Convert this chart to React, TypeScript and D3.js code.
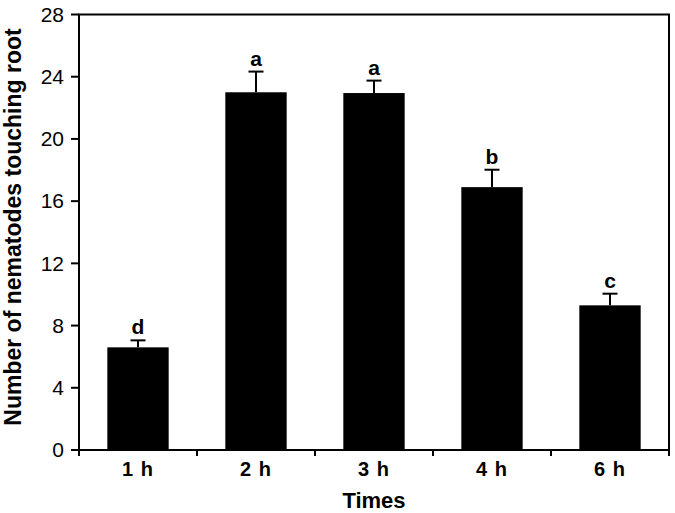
import React from 'react';
import * as d3 from 'd3';

const categories = ['1 h', '2 h', '3 h', '4 h', '6 h'];
const means = [6.6, 23.0, 22.95, 16.9, 9.3];
const errors = [0.45, 1.33, 0.8, 1.12, 0.75];
const letters = ['d', 'a', 'a', 'b', 'c'];
const yTicks = [0, 4, 8, 12, 16, 20, 24, 28];

const App = () => {
    const width = 675;
    const height = 513;
    const margin = { top: 14.5, right: 6, bottom: 63, left: 79 };
    const font = 'Liberation Sans, Arial, Helvetica, sans-serif';

    const x = d3.scaleBand()
        .domain(categories)
        .range([margin.left, width - margin.right])
        .paddingInner(0.48)
        .paddingOuter(0.24);

    const y = d3.scaleLinear()
        .domain([0, 28])
        .range([height - margin.bottom, margin.top]);

    const x0 = margin.left;
    const x1 = width - margin.right;
    const y0 = y(0);
    const boundaries = d3.range(categories.length + 1).map(i => x0 + i * (x1 - x0) / categories.length);

    return (
        <svg
            width={width}
            height={height}
            style={{ position: 'absolute', left: 0, top: 0, background: '#fff' }}
            fontFamily={font}
        >
            {/* bars */}
            {categories.map((c, i) => (
                <rect
                    key={c}
                    x={x(c)}
                    y={y(means[i])}
                    width={x.bandwidth()}
                    height={y0 - y(means[i])}
                    fill="#000"
                />
            ))}

            {/* error bars, upper half only */}
            {categories.map((c, i) => {
                const cx = x(c) + x.bandwidth() / 2;
                const top = y(means[i] + errors[i]);
                return (
                    <g key={c} stroke="#000" strokeWidth={2}>
                        <line x1={cx} x2={cx} y1={y(means[i])} y2={top} />
                        <line x1={cx - 7.5} x2={cx + 7.5} y1={top} y2={top} />
                    </g>
                );
            })}

            {/* significance letters */}
            {categories.map((c, i) => (
                <text
                    key={c}
                    x={x(c) + x.bandwidth() / 2}
                    y={y(means[i] + errors[i]) - 6}
                    textAnchor="middle"
                    fontSize={21}
                    fontWeight="bold"
                >
                    {letters[i]}
                </text>
            ))}

            {/* frame */}
            <rect
                x={x0}
                y={margin.top}
                width={x1 - x0}
                height={y0 - margin.top}
                fill="none"
                stroke="#000"
                strokeWidth={2}
            />

            {/* y ticks */}
            {yTicks.map(t => (
                <g key={t}>
                    <line x1={x0 - 8} x2={x0} y1={y(t)} y2={y(t)} stroke="#000" strokeWidth={2} />
                    <text
                        x={x0 - 15}
                        y={y(t)}
                        dy="0.35em"
                        textAnchor="end"
                        fontSize={21}
                    >
                        {t}
                    </text>
                </g>
            ))}

            {/* x ticks at category boundaries */}
            {boundaries.map((b, i) => (
                <line key={i} x1={b} x2={b} y1={y0} y2={y0 + 6} stroke="#000" strokeWidth={2} />
            ))}
            {categories.map(c => (
                <text
                    key={c}
                    x={x(c) + x.bandwidth() / 2}
                    y={y0 + 26}
                    textAnchor="middle"
                    fontSize={20}
                    fontWeight="bold"
                    letterSpacing={1}
                >
                    {c}
                </text>
            ))}

            {/* axis titles */}
            <text
                x={(x0 + x1) / 2}
                y={y0 + 58}
                textAnchor="middle"
                fontSize={22}
                fontWeight="bold"
            >
                Times
            </text>
            <text
                transform="translate(21,227) rotate(-90)"
                textAnchor="middle"
                fontSize={23}
                fontWeight="bold"
            >
                Number of nematodes touching root
            </text>
        </svg>
    );
};

export default App;
